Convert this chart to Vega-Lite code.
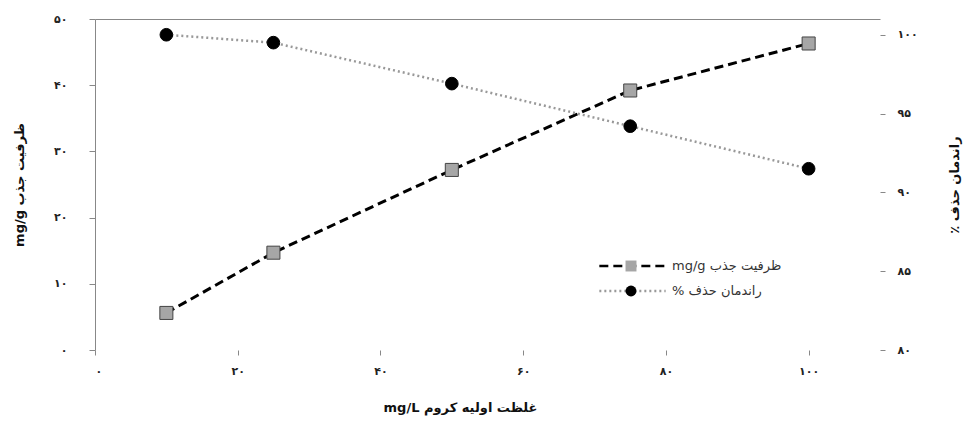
{
  "$schema": "https://vega.github.io/schema/vega-lite/v6.json",
  "width": 785,
  "height": 331,
  "autosize": {"type": "none"},
  "padding": {"left": 95, "top": 19, "right": 89, "bottom": 71},
  "background": "white",
  "config": {"font": "DejaVu Sans", "view": {"stroke": null}},
  "data": {"values": [
    {"c": 10, "capacity": 5.6, "removal": 100.0},
    {"c": 25, "capacity": 14.7, "removal": 99.5},
    {"c": 50, "capacity": 27.2, "removal": 96.9},
    {"c": 75, "capacity": 39.2, "removal": 94.2},
    {"c": 100, "capacity": 46.3, "removal": 91.5}
  ]},
  "encoding": {
    "x": {"field": "c", "type": "quantitative", "scale": {"domain": [0, 110], "nice": false},
      "axis": {"values": [0, 20, 40, 60, 80, 100], "title": "\u202Bغلظت اولیه کروم mg/L\u202C", "titleX": 365,
        "domain": false, "grid": false, "tickColor": "#888", "tickSize": 5, "labelPadding": 10,
        "labelFontSize": 11, "labelColor": "#222", "labelFontWeight": "bold",
        "titleFontSize": 13, "titleFontWeight": "bold", "titleColor": "#111", "titlePadding": 25,
        "labelExpr": "replace(replace(replace(replace(replace(replace(replace(replace(replace(replace(datum.label,/0/g,'۰'),/1/g,'۱'),/2/g,'۲'),/3/g,'۳'),/4/g,'۴'),/5/g,'۵'),/6/g,'۶'),/7/g,'۷'),/8/g,'۸'),/9/g,'۹')"}}
  },
  "layer": [
    {
      "encoding": {
        "y": {"field": "capacity", "type": "quantitative", "scale": {"domain": [0, 50], "nice": false},
          "axis": {"orient": "left", "values": [0, 10, 20, 30, 40, 50], "title": "\u202Bظرفیت جذب mg/g\u202C",
            "domainColor": "#888", "tickColor": "#888", "tickSize": 6, "labelPadding": 22,
            "grid": true, "gridColor": "#888", "gridOpacity": {"condition": {"test": "datum.value === 50", "value": 1}, "value": 0},
            "labelFontSize": 11, "labelColor": "#222", "labelFontWeight": "bold",
            "titleFontSize": 13, "titleFontWeight": "bold", "titleColor": "#111", "titlePadding": 27,
            "labelExpr": "replace(replace(replace(replace(replace(replace(replace(replace(replace(replace(datum.label,/0/g,'۰'),/1/g,'۱'),/2/g,'۲'),/3/g,'۳'),/4/g,'۴'),/5/g,'۵'),/6/g,'۶'),/7/g,'۷'),/8/g,'۸'),/9/g,'۹')"}}
      },
      "layer": [
        {
          "mark": {"type": "line", "strokeWidth": 3},
          "encoding": {
            "strokeDash": {"datum": "ظرفیت جذب mg/g", "scale": {"domain": ["ظرفیت جذب mg/g", "راندمان حذف %"], "range": [[9, 5], [2, 3]]},
              "legend": {"orient": "none", "legendX": 503, "legendY": 240, "title": null, "symbolType": "stroke", "symbolSize": 4400,
                "symbolStrokeWidth": 2.5, "clipHeight": 14, "rowPadding": 11, "padding": 0, "labelOffset": 5,
                "labelFontSize": 13, "labelColor": "#333", "labelLimit": 300,
                "labelExpr": "'\u202B' + datum.label + '\u202C'"}},
            "color": {"datum": "ظرفیت جذب mg/g", "scale": {"domain": ["ظرفیت جذب mg/g", "راندمان حذف %"], "range": ["#000000", "#999999"]},
              "legend": {"orient": "none", "legendX": 503, "legendY": 240, "title": null, "symbolType": "stroke", "symbolSize": 4400,
                "symbolStrokeWidth": 2.5, "clipHeight": 14, "rowPadding": 11, "padding": 0, "labelOffset": 5,
                "labelFontSize": 13, "labelColor": "#333", "labelLimit": 300,
                "labelExpr": "'\u202B' + datum.label + '\u202C'"}}
          }
        },
        {
          "mark": {"type": "point", "filled": true, "opacity": 1, "size": 170, "stroke": "#444", "strokeWidth": 1},
          "encoding": {
            "shape": {"datum": "ظرفیت جذب mg/g", "scale": {"domain": ["راندمان حذف %", "ظرفیت جذب mg/g"], "range": ["circle", "square"]},
              "legend": {"orient": "none", "legendX": 530, "legendY": 240, "title": null, "values": ["ظرفیت جذب mg/g", "راندمان حذف %"],
                "symbolSize": 120, "symbolStrokeColor": "#333", "symbolStrokeWidth": 1, "clipHeight": 14, "rowPadding": 11, "padding": 0,
                "labelExpr": "''"}},
            "fill": {"datum": "ظرفیت جذب mg/g", "scale": {"domain": ["راندمان حذف %", "ظرفیت جذب mg/g"], "range": ["#000000", "#a6a6a6"]},
              "legend": {"orient": "none", "legendX": 530, "legendY": 240, "title": null, "values": ["ظرفیت جذب mg/g", "راندمان حذف %"],
                "symbolSize": 120, "symbolStrokeColor": "#333", "symbolStrokeWidth": 1, "clipHeight": 14, "rowPadding": 11, "padding": 0,
                "labelExpr": "''"}}
          }
        }
      ]
    },
    {
      "encoding": {
        "y": {"field": "removal", "type": "quantitative", "scale": {"domain": [80, 101], "nice": false, "zero": false},
          "axis": {"orient": "right", "values": [80, 85, 90, 95, 100], "title": "\u202Bراندمان حذف ٪\u202C", "titleAngle": 270,
            "domain": false, "tickColor": "#888", "tickSize": 5, "labelPadding": 12, "grid": false,
            "labelFontSize": 11, "labelColor": "#222", "labelFontWeight": "bold",
            "titleFontSize": 13, "titleFontWeight": "bold", "titleColor": "#111", "titlePadding": 44,
            "labelExpr": "replace(replace(replace(replace(replace(replace(replace(replace(replace(replace(datum.label,/0/g,'۰'),/1/g,'۱'),/2/g,'۲'),/3/g,'۳'),/4/g,'۴'),/5/g,'۵'),/6/g,'۶'),/7/g,'۷'),/8/g,'۸'),/9/g,'۹')"}}
      },
      "layer": [
        {
          "mark": {"type": "line", "strokeWidth": 2.5},
          "encoding": {
            "strokeDash": {"datum": "راندمان حذف %"},
            "color": {"datum": "راندمان حذف %"}
          }
        },
        {
          "mark": {"type": "point", "filled": true, "opacity": 1, "size": 160, "stroke": "#000", "strokeWidth": 1},
          "encoding": {
            "shape": {"datum": "راندمان حذف %"},
            "fill": {"datum": "راندمان حذف %"}
          }
        }
      ]
    }
  ],
  "resolve": {"scale": {"y": "independent"}}
}
